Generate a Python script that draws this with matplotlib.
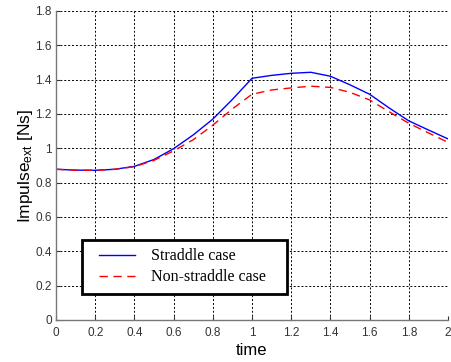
import matplotlib
matplotlib.use("Agg")
import matplotlib.pyplot as plt
from matplotlib.legend_handler import HandlerLine2D
from matplotlib.lines import Line2D

time = [0.0, 0.1, 0.2, 0.3, 0.4, 0.5, 0.6, 0.7, 0.8, 0.9, 1.0,
        1.1, 1.2, 1.3, 1.4, 1.5, 1.6, 1.7, 1.8, 1.9, 2.0]
straddle = [0.878, 0.873, 0.872, 0.878, 0.895, 0.935, 0.998, 1.078, 1.17, 1.285, 1.408,
            1.425, 1.437, 1.443, 1.42, 1.37, 1.315, 1.235, 1.16, 1.107, 1.055]
non_straddle = [0.878, 0.873, 0.872, 0.878, 0.893, 0.93, 0.985, 1.05, 1.135, 1.23, 1.315,
                1.34, 1.352, 1.362, 1.355, 1.326, 1.282, 1.213, 1.146, 1.09, 1.035]
xticks = [0, 0.2, 0.4, 0.6, 0.8, 1, 1.2, 1.4, 1.6, 1.8, 2]
xticklabels = ["0", "0.2", "0.4", "0.6", "0.8", "1", "1.2", "1.4", "1.6", "1.8", "2"]
yticks = [0, 0.2, 0.4, 0.6, 0.8, 1, 1.2, 1.4, 1.6, 1.8]
yticklabels = ["0", "0.2", "0.4", "0.6", "0.8", "1", "1.2", "1.4", "1.6", "1.8"]

plt.rcParams['font.family'] = ['Liberation Sans', 'DejaVu Sans']
plt.rcParams['mathtext.fontset'] = 'custom'
plt.rcParams['mathtext.rm'] = 'Liberation Sans'
plt.rcParams['mathtext.it'] = 'Liberation Sans'

fig = plt.figure(figsize=(4.51, 3.62), dpi=100)
ax = fig.add_axes([56/451, 1-320/362, (448-56)/451, (320-11)/362])

ax.plot(time, straddle, color='#0000ff', lw=1.0, label='Straddle case')
ax.plot(time, non_straddle, color='#ff0000', lw=1.0, ls=(0, (6, 4)), label='Non-straddle case')

ax.set_xlim(0, 2)
ax.set_ylim(0, 1.8)
ax.set_xticks(xticks)
ax.set_xticklabels(xticklabels)
ax.set_yticks(yticks)
ax.set_yticklabels(yticklabels)
ax.tick_params(direction='in', length=3, labelsize=8.5, colors='#333333')
ax.tick_params(axis='x', pad=5)
ax.tick_params(axis='y', pad=3)
ax.grid(True, color='black', ls=(0, (2, 2)), lw=0.7)
for s in ['top', 'right']:
    ax.spines[s].set_visible(False)
for s in ['left', 'bottom']:
    ax.spines[s].set_color('#777777')
    ax.spines[s].set_linewidth(1.0)

ax.set_xlabel('time', fontsize=12, labelpad=3)
ax.set_ylabel(r'Impulse$_{\rm ext}$ [Ns]', fontsize=12.5, labelpad=0)

leg = ax.legend(loc='lower left', bbox_to_anchor=((82-56)/392, (320-294)/309, (287-82)/392, (294-238)/309),
                mode='expand', frameon=True, fancybox=False, framealpha=1,
                prop={'family': 'Liberation Serif', 'size': 11.5},
                handler_map={Line2D: HandlerLine2D(xpad=0.5)},
                handlelength=2.75, borderpad=0.55, labelspacing=0.3, handletextpad=1.05, borderaxespad=0)
leg.get_frame().set_edgecolor('black')
leg.get_frame().set_linewidth(2.0)

fig.savefig('out.png', dpi=100)
